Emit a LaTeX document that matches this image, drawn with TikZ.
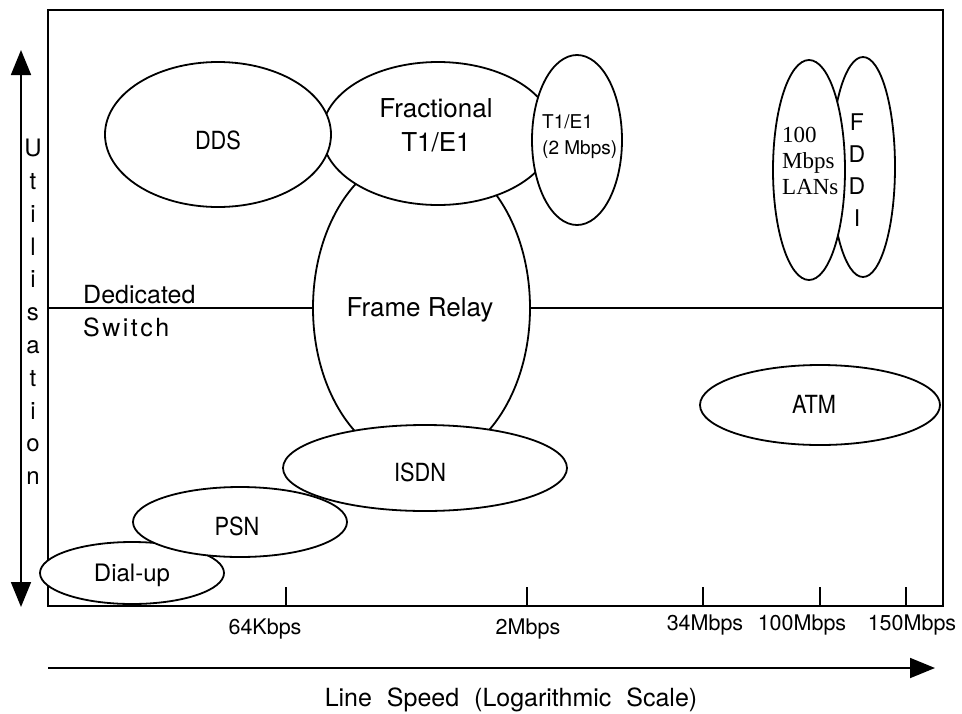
\documentclass[tikz,border=0pt]{standalone}
\usepackage{fontspec}
\setmainfont{TeX Gyre Heros}
\newfontfamily\condfont[FakeStretch=0.87]{TeX Gyre Heros}
\newfontfamily\spacedfont[LetterSpace=10]{TeX Gyre Heros}
\newfontfamily\serifont{Liberation Serif}
\usetikzlibrary{shapes.geometric,arrows.meta}
\begin{document}
\begin{tikzpicture}[x=1pt,y=-1pt,
  every node/.style={inner sep=0pt},
  ln/.style={line width=1.8pt},
  ell/.style={draw, ellipse, fill=white, line width=1.8pt, inner sep=0pt},
  big/.style={font=\fontsize{26}{34}\selectfont},
  mid/.style={font=\fontsize{25}{28}\selectfont},
  cond/.style={font=\condfont\fontsize{25}{28}\selectfont},
  tick/.style={font=\fontsize{21.5}{24}\selectfont},
  >={Triangle[length=25pt,width=20pt]}
  ]
\useasboundingbox (0,0) rectangle (962,713);

% frame
\coordinate (ftl) at (48,10);
\coordinate (fbr) at (943,606);
\draw[ln] (ftl) rectangle (fbr);

% ticks
\foreach \tx in {286,527,703,820,906} \draw[ln] (\tx,606) -- (\tx,587);

% axes arrows
\coordinate (uat) at (21,50);
\coordinate (uab) at (21,607);
\draw[ln, <->] (uat) -- (uab);
\coordinate (hal) at (48,668);
\coordinate (har) at (935,668);
\draw[ln, ->] (hal) -- (har);

% Frame Relay and the dedicated/switch divider
\node[ell, minimum width=217pt, minimum height=312pt] (frel) at (421.5,308) {};
\coordinate (dl) at (48,308);
\coordinate (dr) at (943,308);
\draw[ln] (dl) -- (frel.west);
\draw[ln] (frel.east) -- (dr);

% ellipses
\node[ell, minimum width=232pt, minimum height=143pt] (frac) at (438,133.5) {};
\node[ell, minimum width=226pt, minimum height=145pt] (dds) at (218,134.5) {};
\node[ell, minimum width=90pt, minimum height=170pt] (t1) at (577,140) {};
\node[ell, minimum width=284pt, minimum height=86pt] (isdn) at (425,468) {};
\node[ell, minimum width=184pt, minimum height=62pt] (dial) at (132,573) {};
\node[ell, minimum width=214pt, minimum height=70pt] (psn) at (240,522) {};
\node[ell, minimum width=64pt, minimum height=220pt] (fddi) at (863,167) {};
\node[ell, minimum width=72pt, minimum height=220pt] (lans) at (809,170) {};
\node[ell, minimum width=240pt, minimum height=80pt] (atm) at (820,405) {};

% labels
\node[cond] (tdds) at (218,140) {DDS};
\node[big, align=center] (tfrac) at (436,125) {Fractional\\T1/E1};
\node[big] (tfr) at (420,310) {Frame\ Relay};
\node[font=\fontsize{19}{26}\selectfont, align=left, anchor=west] (tt1) at (542,137) {T1/E1\\(2 Mbps)};
\node[font=\serifont\fontsize{23}{26}\selectfont, align=left, anchor=west] (tlans) at (782,161) {100\\Mbps\\LANs};
\node[font=\fontsize{23}{32}\selectfont, align=center] (tfddi) at (857,170) {F\\D\\D\\I};
\node[cond] (tatm) at (814,404) {ATM};
\node[cond] (tisdn) at (420,472) {ISDN};
\node[cond] (tpsn) at (237,526) {PSN};
\node[font=\fontsize{24}{28}\selectfont, anchor=base] (tdial) at (132,581.6) {Dial-up};
\node[mid, anchor=base west] (tded) at (83,303) {Dedicated};
\node[font=\spacedfont\fontsize{25}{28}\selectfont, anchor=base west] (tsw) at (83,336) {Switch};
\node[font=\fontsize{24}{32.8}\selectfont, align=center] (tutil) at (33,312) {U\\t\\i\\l\\i\\s\\a\\t\\i\\o\\n};

% tick labels
\node[tick, anchor=base] (l64) at (265,634.7) {64Kbps};
\node[tick, anchor=base] (l2) at (528,634.7) {2Mbps};
\node[tick, anchor=base] (l34) at (705,630.7) {34Mbps};
\node[tick, anchor=base] (l100) at (802,630.7) {100Mbps};
\node[tick, anchor=base] (l150) at (912,630.7) {150Mbps};

% axis title
\node[font=\fontsize{25}{28}\selectfont, anchor=base] (ttitle) at (511,706.5) {Line\hspace{8pt} Speed\hspace{8pt} (Logarithmic\hspace{8pt} Scale)};
\end{tikzpicture}
\end{document}
